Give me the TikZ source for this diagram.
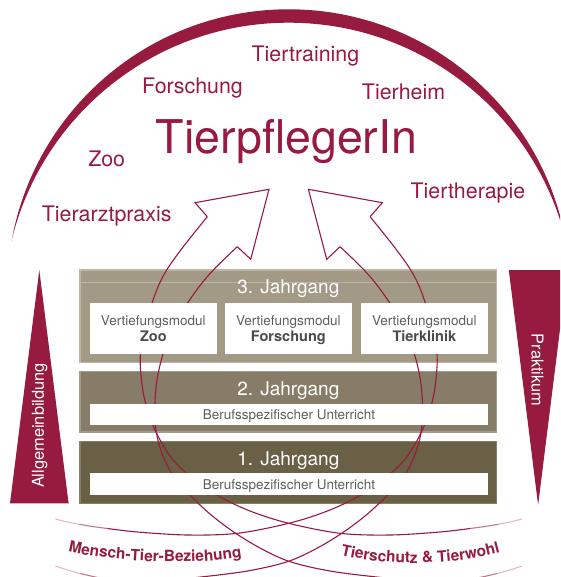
\documentclass[tikz,border=0pt]{standalone}
\usepackage{fontspec}
\setmainfont{TeX Gyre Heros}
\usetikzlibrary{decorations.text}
\definecolor{tred}{HTML}{961B3E}
\definecolor{gA}{HTML}{A39A86}
\definecolor{gAl}{HTML}{BDB6A7}
\definecolor{gB}{HTML}{877C68}
\definecolor{gBl}{HTML}{A29A8A}
\definecolor{gC}{HTML}{6A6046}
\definecolor{gCl}{HTML}{878069}
\definecolor{mtext}{HTML}{5E5E5E}
\definecolor{mbold}{HTML}{4A4A4A}
\newcommand{\myribbon}{%
  \draw[rib, line join=miter] (207.3,216.7) -- (195,202.7) -- (269,189.3) -- (250.7,259.3) -- (237.3,246.7);
  \draw[rib] plot[smooth, tension=0.55] coordinates {(207.3,216.7) (183.3,246.7) (166.7,270) (156.7,290) (147,320) (140.5,353) (141.5,380) (145.5,403) (155,430) (170,456) (186.7,473.3) (216.7,495) (250,511) (288.7,523.3) (340,533.3) (390,535) (440,532) (470,528.5)};
  \draw[rib, opacity=0.6] plot[smooth] coordinates {(470,528.5) (485,526.5) (498,524.3)};
  \draw[rib, opacity=0.3] plot[smooth] coordinates {(498,524.3) (510,522) (522,519)};
  \draw[rib] plot[smooth, tension=0.55] coordinates {(237.3,246.7) (213.3,270) (196.7,290) (177,320) (163.3,353.3) (157,380) (155,403.3) (156,430) (161.5,452) (171.7,473.3) (190,495) (210,514) (233.3,531.7) (260,548) (290,561.7) (330,571) (376.7,577) (430,582) (465,580)};
  \draw[rib, opacity=0.6] plot[smooth] coordinates {(465,580) (482,577) (497,573.5)};
  \draw[rib, opacity=0.3] plot[smooth] coordinates {(497,573.5) (510,570) (522,566)};
}
\begin{document}
\begin{tikzpicture}[x=1pt,y=-1pt,
  lbl/.style={text=tred, font=\fontsize{21.4}{24}\selectfont, anchor=base, inner sep=0pt},
  yearbox/.style={minimum width=416.7pt, inner sep=0pt, line width=1.2pt},
  bar/.style={fill=white, minimum width=398pt, inner sep=0pt},
  modbox/.style={fill=white, minimum width=126.7pt, minimum height=51.3pt, inner sep=0pt},
  yeartitle/.style={text=white, font=\fontsize{19}{22}\selectfont, anchor=base, inner sep=0pt},
  bartext/.style={text=mtext, font=\fontsize{13.5}{16}\selectfont, anchor=base, inner sep=0pt},
  modtext/.style={text=mtext, font=\fontsize{13.5}{16}\selectfont, anchor=base, inner sep=0pt},
  modbold/.style={text=mbold, font=\fontsize{14.5}{16}\selectfont\bfseries, anchor=base, inner sep=0pt},
  rib/.style={draw=tred, line width=1.1pt},
  sidetext/.style={text=white, font=\fontsize{16.4}{18}\selectfont, inner sep=0pt}]
\useasboundingbox (0,0) rectangle (560,577);
\clip (0,0) rectangle (560,577);
% crescent arc
\begin{scope}
  \clip (0,0) rectangle (560,240);
  \fill[tred, even odd rule] (288.7,290.8) circle[radius=281.5pt] (288.7,307.8) circle[radius=285.1pt];
\end{scope}
% labels
\node[lbl, font=\fontsize{46.5}{50}\selectfont] (title) at (286.5,153.3) {TierpflegerIn};
\node[lbl] (ltrain) at (305.4,61.7) {Tiertraining};
\node[lbl] (lforsch) at (192.5,93.3) {Forschung};
\node[lbl] (lheim) at (403.6,100) {Tierheim};
\node[lbl] (lzoo) at (106.7,166.7) {Zoo};
\node[lbl] (larzt) at (106.7,221.7) {Tierarztpraxis};
\node[lbl] (ltherapie) at (467.9,199) {Tiertherapie};
% side triangles
\fill[tred] (39.3,270) -- (10,503.3) -- (68.6,503.3) -- cycle;
\fill[tred] (508.8,270) -- (567.4,270) -- (538.1,505) -- cycle;
\node[sidetext, rotate=90] (allg) at (39.6,425.5) {Allgemeinbildung};
\node[sidetext, rotate=-90] (prak) at (537.5,370) {Praktikum};
% year boxes
\node[yearbox, fill=gA, draw=gAl, minimum height=92.7pt] (b3) at (288.35,316.35) {};
\draw[gAl, line width=0.8pt] ([yshift=-13.3pt]b3.north west) -- ([yshift=-13.3pt]b3.north east);
\node[yearbox, fill=gB, draw=gBl, minimum height=60.3pt] (b2) at (288.35,401.85) {};
\node[yearbox, fill=gC, draw=gCl, minimum height=61.6pt] (b1) at (288.35,472.5) {};
% ribbons
\myribbon
\begin{scope}[xshift=577.4pt, xscale=-1]
  \myribbon
\end{scope}
% white boxes
\node[modbox] (m1) at (153.35,328.35) {};
\node[modbox] (m2) at (288.35,328.35) {};
\node[modbox] (m3) at (424.35,328.35) {};
\node[bar, minimum height=21pt] (w2) at (289,414.5) {};
\node[bar, minimum height=21.7pt] (w1) at (289,484.2) {};
% texts in boxes
\node[yeartitle] (t3) at (288.35,293.3) {3. Jahrgang};
\node[yeartitle] (t2) at (288.35,395) {2. Jahrgang};
\node[yeartitle] (t1) at (288.35,465) {1. Jahrgang};
\node[modtext] (m1a) at (153.35,325) {Vertiefungsmodul};
\node[modbold] (m1b) at (153.35,341.7) {Zoo};
\node[modtext] (m2a) at (288.35,325) {Vertiefungsmodul};
\node[modbold] (m2b) at (288.35,341.7) {Forschung};
\node[modtext] (m3a) at (424.35,325) {Vertiefungsmodul};
\node[modbold] (m3b) at (424.35,341.7) {Tierklinik};
\node[bartext] (w2t) at (289,419.3) {Berufsspezifischer Unterricht};
\node[bartext] (w1t) at (289,489.3) {Berufsspezifischer Unterricht};
% curved bottom labels
\path[decorate, decoration={text along path, text align=center, text color=tred,
  text={|\fontsize{15.5}{18}\selectfont\bfseries|Mensch-Tier-Beziehung}}]
  (62,550) .. controls (115,563) and (195,566) .. (248,556);
\path[decorate, decoration={text along path, text align=center, text color=tred,
  text={|\fontsize{15.5}{18}\selectfont\bfseries|Tierschutz {\&} Tierwohl}}]
  (336,554) .. controls (385,566) and (450,567) .. (505,551);
\end{tikzpicture}
\end{document}
